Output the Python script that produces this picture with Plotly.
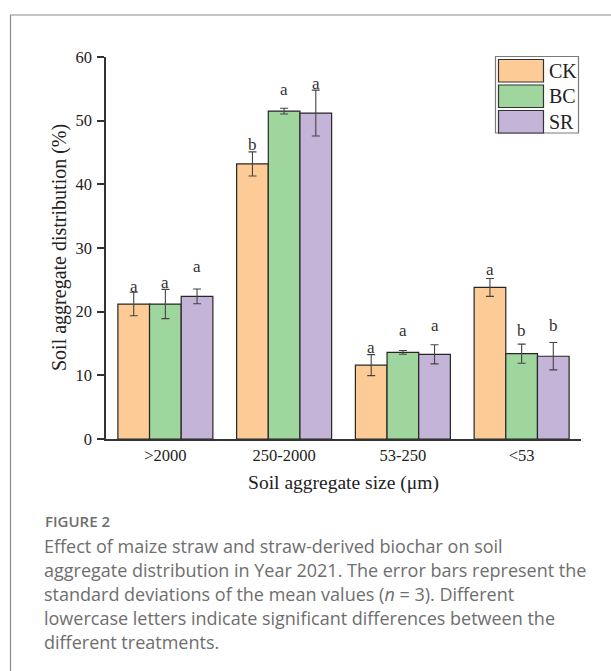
import plotly.graph_objects as go

# Aggregate size classes (µm)
size_classes = [">2000", "250-2000", "53-250", "<53"]

# Treatments
treatments = ["CK", "BC", "SR"]

# Mean aggregate distribution (%)
ck_mean = [21.2, 43.2, 11.6, 23.8]
bc_mean = [21.2, 51.5, 13.6, 13.4]
sr_mean = [22.4, 51.2, 13.3, 13.0]

# Standard deviations (n = 3)
ck_sd = [1.85, 1.9, 1.65, 1.4]
bc_sd = [2.3, 0.45, 0.3, 1.5]
sr_sd = [1.15, 3.6, 1.5, 2.15]

# Significance letters
ck_letters = ["a", "b", "a", "a"]
bc_letters = ["a", "a", "a", "b"]
sr_letters = ["a", "a", "a", "b"]

y_ticks = [0, 10, 20, 30, 40, 50, 60]

caption_title = "FIGURE 2"
caption_lines = [
    "Effect of maize straw and straw-derived biochar on soil",
    "aggregate distribution in Year 2021. The error bars represent the",
    "standard deviations of the mean values (<i>n</i> = 3). Different",
    "lowercase letters indicate significant differences between the",
    "different treatments.",
]

colors = ["#FDCC96", "#9ED69D", "#C4B4D8"]
means = [ck_mean, bc_mean, sr_mean]
sds = [ck_sd, bc_sd, sr_sd]
letters = [ck_letters, bc_letters, sr_letters]
# extra height of each letter above its error bar (per treatment, per class)
letter_gap = [[0.9, 1.1, 1.1, 1.5], [1.1, 3.0, 3.1, 2.1], [3.5, 1.1, 3.1, 2.6]]

W, H = 611, 671
L, R, T, B = 106, 30, 57, 232
plot_w = W - L - R
plot_h = H - T - B


def px(x):
    return (x - L) / plot_w


def py(y):
    return (H - B - y) / plot_h


serif = "Liberation Serif, Times New Roman, serif"
axis_col = "#333333"

fig = go.Figure()
for name, m, s, c in zip(treatments, means, sds, colors):
    fig.add_trace(go.Bar(
        name=name, x=size_classes, y=m,
        marker=dict(color=c, line=dict(color="#262626", width=1.2)),
        error_y=dict(type="data", array=s, visible=True,
                     color="#444444", thickness=1.1, width=4),
        showlegend=False,
    ))

# Significance letters above bars (offset by group position)
n = len(treatments)
bar_w = 0.8 / n
for i in range(n):
    for j, cat in enumerate(size_classes):
        xpos = j - 0.4 + bar_w * (i + 0.5)
        fig.add_annotation(
            x=xpos, y=means[i][j] + sds[i][j] + letter_gap[i][j],
            xref="x", yref="y", text=letters[i][j], showarrow=False,
            font=dict(family=serif, size=17, color="#333333"),
            xanchor="center", yanchor="middle",
        )

fig.update_layout(
    width=W, height=H,
    margin=dict(l=L, r=R, t=T, b=B),
    paper_bgcolor="white", plot_bgcolor="white",
    barmode="group", bargap=0.2, bargroupgap=0,
    xaxis=dict(
        type="category", range=[-0.5, 3.5],
        showline=True, linecolor=axis_col, linewidth=1.5,
        ticks="",
        tickfont=dict(family=serif, size=16.5, color="#222222"),
        title=dict(text="Soil aggregate size (μm)", standoff=12,
                   font=dict(family=serif, size=19.5, color="#222222")),
        showgrid=False, zeroline=False,
    ),
    yaxis=dict(
        range=[0, 60], tickvals=y_ticks,
        showline=True, linecolor=axis_col, linewidth=1.5,
        ticks="outside", ticklen=7, tickwidth=1.5, tickcolor=axis_col,
        ticklabelstandoff=2,
        tickfont=dict(family=serif, size=16.5, color="#222222"),
        showgrid=False, zeroline=False,
    ),
)

# Y-axis title
fig.add_annotation(x=px(59), y=0.5, xref="paper", yref="paper",
                   text="Soil aggregate distribution (%)", showarrow=False,
                   textangle=-90, xanchor="center", yanchor="middle",
                   font=dict(family=serif, size=20, color="#222222"))

# Legend box drawn with large swatches
lx0, lx1, ly0, ly1 = 495.5, 578.5, 56.5, 133
fig.add_shape(type="rect", xref="paper", yref="paper",
              x0=px(lx0), x1=px(lx1), y0=py(ly1), y1=py(ly0),
              line=dict(color="#7a7a7a", width=1.2), fillcolor="white")
row_h = (ly1 - ly0) / 3
for k, (name, c) in enumerate(zip(treatments, colors)):
    top = ly0 + 3 + k * row_h
    fig.add_shape(type="rect", xref="paper", yref="paper",
                  x0=px(498.5), x1=px(543.5), y0=py(top + row_h - 3), y1=py(top),
                  line=dict(color="#333333", width=1.2), fillcolor=c)
    fig.add_annotation(x=px(547), y=py(top + (row_h - 3) / 2), xref="paper", yref="paper",
                       text=name, showarrow=False, xanchor="left", yanchor="middle",
                       font=dict(family=serif, size=20, color="#222222"))

# Outer frame
fig.add_shape(type="path", xref="paper", yref="paper",
              path=f"M {px(625)},{py(15)} L {px(10.5)},{py(15)} L {px(10.5)},{py(690)}",
              line=dict(color="#8c8c8c", width=1.2))

# Caption
sans = "Open Sans, Noto Sans, sans-serif"
fig.add_annotation(x=px(43), y=py(521), xref="paper", yref="paper",
                   text=caption_title, showarrow=False,
                   xanchor="left", yanchor="middle",
                   font=dict(family=sans, size=15, weight=600, color="#6e6e6e"))
for k, line in enumerate(caption_lines):
    fig.add_annotation(x=px(42), y=py(546 + k * 24.1), xref="paper", yref="paper",
                       text=line, showarrow=False, xanchor="left", yanchor="middle",
                       font=dict(family=sans, size=18, color="#6e6e6e"))

fig.write_html("out.html")
